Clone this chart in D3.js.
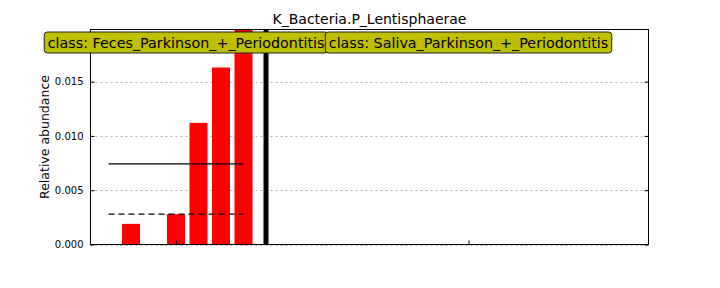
<!DOCTYPE html>
<html>
<head>
<meta charset="utf-8">
<script src="https://cdn.jsdelivr.net/npm/d3@7"></script>
<style>
  body { margin: 0; background: #fff; }
  svg { display: block; font-family: "DejaVu Sans", sans-serif; }
</style>
</head>
<body>
<div id="chart"></div>
<script>
// feature title and classes
var featureName = 'K_Bacteria.P_Lentisphaerae';
var classNames = ['Feces_Parkinson_+_Periodontitis', 'Saliva_Parkinson_+_Periodontitis'];

// relative abundance per sample, one list per class
var fecesValues = [0, 0.0019, 0, 0.0028, 0.0112, 0.0163, 0.0198];
var salivaValues = [0, 0, 0, 0, 0, 0, 0, 0, 0, 0, 0, 0, 0, 0, 0, 0, 0];

// y tick values and where the class labels sit (x units)
var yTicks = [0, 0.005, 0.010, 0.015];
var labelX = [3.85, 16.4];

var width = 720, height = 288;
var margin = { left: 90.5, right: 71.5, top: 29.5, bottom: 43.5 };
var barWidth = 0.8;

// lay the samples out: one empty slot between classes
var groups = [fecesValues, salivaValues];
var samples = [], classes = [], pos = 0;
groups.forEach(function (vals, ci) {
  var start = pos;
  vals.forEach(function (v) {
    samples.push({ x: pos, v: v, cls: ci });
    pos += 1;
  });
  classes.push({
    name: classNames[ci],
    start: start,
    end: pos - 1,
    mean: d3.mean(vals),
    median: d3.median(vals)
  });
  pos += 1; // gap slot
});
var lastX = pos - 2;

var x = d3.scaleLinear()
    .domain([-0.4, lastX + 0.4])
    .range([margin.left, width - margin.right]);

var y = d3.scaleLinear()
    .domain([0, d3.max(samples, function (d) { return d.v; })])
    .range([height - margin.bottom, margin.top]);

var svg = d3.select('#chart').append('svg')
    .attr('width', width)
    .attr('height', height);

var x0 = x.range()[0], x1 = x.range()[1];
var yb = y.range()[0], yt = y.range()[1];

svg.append('defs').append('clipPath').attr('id', 'plot-clip')
  .append('rect')
    .attr('x', x0).attr('y', yt)
    .attr('width', x1 - x0).attr('height', yb - yt);

// grid
svg.append('g')
    .selectAll('line')
    .data(yTicks)
    .enter().append('line')
    .attr('x1', x0).attr('x2', x1)
    .attr('y1', function (d) { return Math.round(y(d)) + 0.5; })
    .attr('y2', function (d) { return Math.round(y(d)) + 0.5; })
    .attr('stroke', '#b0b0b0')
    .attr('stroke-width', 1)
    .attr('stroke-dasharray', '2,3');

var plot = svg.append('g').attr('clip-path', 'url(#plot-clip)');

// bars
plot.selectAll('rect.bar')
    .data(samples.filter(function (d) { return d.v > 0; }))
    .enter().append('rect')
    .attr('class', 'bar')
    .attr('x', function (d) { return x(d.x); })
    .attr('width', x(barWidth) - x(0))
    .attr('y', function (d) { return y(d.v); })
    .attr('height', function (d) { return y(0) - y(d.v); })
    .attr('fill', '#ff0000');

// mean (solid) and median (dashed) per class
classes.forEach(function (c) {
  var a = x(c.start + barWidth / 2), b = x(c.end + barWidth / 2);
  plot.append('line')
      .attr('x1', a).attr('x2', b)
      .attr('y1', y(c.mean)).attr('y2', y(c.mean))
      .attr('stroke', '#000').attr('stroke-width', 1.2);
  plot.append('line')
      .attr('x1', a).attr('x2', b)
      .attr('y1', y(c.median)).attr('y2', y(c.median))
      .attr('stroke', '#000').attr('stroke-width', 1.2)
      .attr('stroke-dasharray', '6,4');
});

// separators between classes
classes.slice(0, -1).forEach(function (c) {
  plot.append('line')
      .attr('x1', x(c.end + 1 + barWidth / 2)).attr('x2', x(c.end + 1 + barWidth / 2))
      .attr('y1', yb).attr('y2', yt)
      .attr('stroke', '#000').attr('stroke-width', 5);
});

// frame
svg.append('rect')
    .attr('x', x0).attr('y', yt)
    .attr('width', x1 - x0).attr('height', yb - yt)
    .attr('fill', 'none').attr('stroke', '#000').attr('stroke-width', 1);

// y axis (ticks inward, on both sides)
var yAxis = d3.axisLeft(y).tickValues(yTicks).tickFormat(d3.format('.3f')).tickSizeInner(-4).tickSizeOuter(0).tickPadding(7);
var yg = svg.append('g').attr('transform', 'translate(' + x0 + ',0)').call(yAxis);
var yAxisR = d3.axisRight(y).tickValues(yTicks).tickFormat('').tickSizeInner(-4).tickSizeOuter(0);
var ygr = svg.append('g').attr('transform', 'translate(' + x1 + ',0)').call(yAxisR);

// x ticks at class centres, no labels
var centres = classes.map(function (c) { return (c.start + c.end) / 2 + barWidth / 2; });
var xAxis = d3.axisBottom(x).tickValues(centres).tickFormat('').tickSizeInner(-4).tickSizeOuter(0);
var xg = svg.append('g').attr('transform', 'translate(0,' + yb + ')').call(xAxis);

[yg, ygr, xg].forEach(function (g) {
  g.select('.domain').remove();
  g.selectAll('line').attr('stroke', '#000');
  g.selectAll('text').attr('fill', '#000').style('font-size', '10px').style('font-family', '"DejaVu Sans", sans-serif');
});

// class label boxes
classes.forEach(function (c, i) {
  var g = svg.append('g').attr('transform', 'translate(' + x(labelX[i]) + ',42.5)');
  var t = g.append('text')
      .attr('text-anchor', 'middle')
      .attr('dy', '0.35em')
      .style('font-size', '14.3px')
      .text('class: ' + c.name);
  var bb = t.node().getBBox();
  g.insert('rect', 'text')
      .attr('x', bb.x - 3.5).attr('y', -10.5)
      .attr('width', bb.width + 7).attr('height', 21)
      .attr('rx', 3).attr('ry', 3)
      .attr('fill', '#bfbf00')
      .attr('stroke', '#222').attr('stroke-width', 1);
});

// title
svg.append('text')
    .attr('x', (x0 + x1) / 2)
    .attr('y', 24)
    .attr('text-anchor', 'middle')
    .style('font-size', '14px')
    .text(featureName);

// y label
svg.append('text')
    .attr('transform', 'translate(49,' + ((yt + yb) / 2) + ') rotate(-90)')
    .attr('text-anchor', 'middle')
    .style('font-size', '12.5px')
    .text('Relative abundance');
</script>
</body>
</html>
